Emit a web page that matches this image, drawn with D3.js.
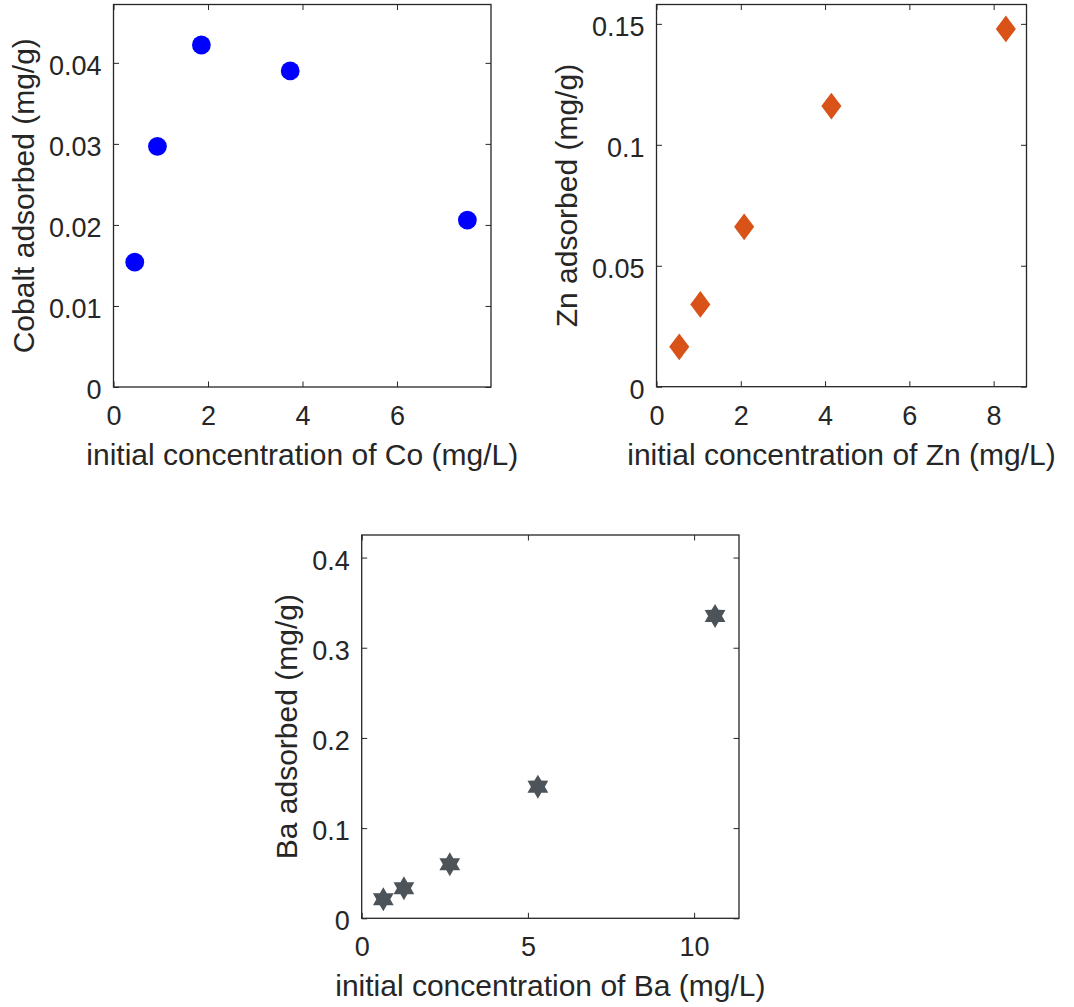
<!DOCTYPE html>
<html>
<head>
<meta charset="utf-8">
<script src="https://cdn.jsdelivr.net/npm/d3@7"></script>
<style>
  body { margin: 0; background: #fff; }
  svg { display: block; }
</style>
</head>
<body>
<svg id="chart" width="1074" height="1007"></svg>
<script>
// cobalt
const coConc = [0.45, 0.93, 1.86, 3.74, 7.49];
const coAds = [0.0154, 0.0297, 0.0422, 0.0390, 0.0206];
const coXTicks = [0, 2, 4, 6];
const coYTicks = [0, 0.01, 0.02, 0.03, 0.04];

// zinc
const znConc = [0.54, 1.04, 2.08, 4.15, 8.29];
const znAds = [0.0165, 0.0340, 0.0661, 0.1160, 0.1479];
const znXTicks = [0, 2, 4, 6, 8];
const znYTicks = [0, 0.05, 0.1, 0.15];

// barium
const baConc = [0.65, 1.27, 2.65, 5.30, 10.63];
const baAds = [0.0211, 0.0333, 0.0599, 0.146, 0.3353];
const baXTicks = [0, 5, 10];
const baYTicks = [0, 0.1, 0.2, 0.3, 0.4];

const FONT = '"Liberation Sans", Arial, Helvetica, sans-serif';
const INK = "#262626";

// custom marker shapes (size = half height in px)
const diamondTall = {
  draw(ctx, s) {
    const w = s * 0.75;
    ctx.moveTo(0, -s); ctx.lineTo(w, 0); ctx.lineTo(0, s); ctx.lineTo(-w, 0); ctx.closePath();
  }
};
const hexagram = {
  draw(ctx, R) {
    const r = R * 0.58;
    for (let i = 0; i < 12; i++) {
      const a = -Math.PI / 2 + i * Math.PI / 6;
      const rad = i % 2 === 0 ? R : r;
      const px = rad * Math.cos(a), py = rad * Math.sin(a);
      if (i === 0) ctx.moveTo(px, py); else ctx.lineTo(px, py);
    }
    ctx.closePath();
  }
};
const roundDot = {
  draw(ctx, r) { ctx.moveTo(r, 0); ctx.arc(0, 0, r, 0, 2 * Math.PI); }
};

const panels = [
  { x: coConc, y: coAds, xt: coXTicks, yt: coYTicks, xMax: 7.99, yMax: 0.0472,
    box: [113.5, 4.5, 491, 387], shape: roundDot, size: 9.4, color: "#0000ff",
    xLabel: "initial concentration of Co (mg/L)", yLabel: "Cobalt adsorbed (mg/g)" },
  { x: znConc, y: znAds, xt: znXTicks, yt: znYTicks, xMax: 8.78, yMax: 0.158,
    box: [656.5, 4.5, 1026.5, 386.7], shape: diamondTall, size: 13.4, color: "#d95319",
    xLabel: "initial concentration of Zn (mg/L)", yLabel: "Zn adsorbed (mg/g)" },
  { x: baConc, y: baAds, xt: baXTicks, yt: baYTicks, xMax: 11.35, yMax: 0.425,
    box: [361.7, 535, 739, 918.3], shape: hexagram, size: 12, color: "#4c545a",
    xLabel: "initial concentration of Ba (mg/L)", yLabel: "Ba adsorbed (mg/g)" }
];

const svg = d3.select("#chart");
svg.append("rect").attr("width", 1074).attr("height", 1007).attr("fill", "#fff");

const TICK = 5.5;

panels.forEach(p => {
  const [l, t, r, b] = p.box;
  const x = d3.scaleLinear().domain([0, p.xMax]).range([l, r]);
  const y = d3.scaleLinear().domain([0, p.yMax]).range([b, t]);
  const g = svg.append("g");

  // bottom axis with labels
  const gx = g.append("g").attr("transform", `translate(0,${b})`)
    .call(d3.axisBottom(x).tickValues(p.xt).tickFormat(String)
      .tickSizeInner(-TICK).tickSizeOuter(0).tickPadding(19));
  // left axis with labels
  const gy = g.append("g").attr("transform", `translate(${l},0)`)
    .call(d3.axisLeft(y).tickValues(p.yt).tickFormat(String)
      .tickSizeInner(-TICK).tickSizeOuter(0).tickPadding(12));
  gy.selectAll("text").attr("dy", "0.43em");
  [gx, gy].forEach(a => a.attr("font-size", 27).attr("font-family", FONT));
  // top and right ticks only
  g.append("g").attr("transform", `translate(0,${t})`)
    .call(d3.axisTop(x).tickValues(p.xt).tickFormat("").tickSizeInner(-TICK).tickSizeOuter(0));
  g.append("g").attr("transform", `translate(${r},0)`)
    .call(d3.axisRight(y).tickValues(p.yt).tickFormat("").tickSizeInner(-TICK).tickSizeOuter(0));
  g.selectAll(".domain").remove();
  g.selectAll(".tick line").attr("stroke", INK);
  g.selectAll(".tick text").attr("fill", INK);

  // box
  g.append("rect")
    .attr("x", l).attr("y", t).attr("width", r - l).attr("height", b - t)
    .attr("fill", "none").attr("stroke", INK).attr("stroke-width", 1.3);

  // markers
  const pts = p.x.map((v, i) => [v, p.y[i]]);
  g.append("g").selectAll("path")
    .data(pts)
    .enter()
    .append("path")
    .attr("transform", d => `translate(${x(d[0])},${y(d[1])})`)
    .attr("d", d3.symbol(p.shape, p.size))
    .attr("fill", p.color);

  // x label
  g.append("text")
    .attr("x", (l + r) / 2).attr("y", b + 78)
    .attr("text-anchor", "middle")
    .attr("font-family", FONT).attr("font-size", 30).attr("fill", INK)
    .text(p.xLabel);

  // y label sits left of the widest tick label
  let maxW = 0;
  gy.selectAll("text").each(function () { maxW = Math.max(maxW, this.getComputedTextLength()); });
  const lx = l - 12 - maxW - 15;
  g.append("text")
    .attr("transform", `translate(${lx},${(t + b) / 2}) rotate(-90)`)
    .attr("text-anchor", "middle")
    .attr("font-family", FONT).attr("font-size", 30).attr("fill", INK)
    .text(p.yLabel);
});
</script>
</body>
</html>
